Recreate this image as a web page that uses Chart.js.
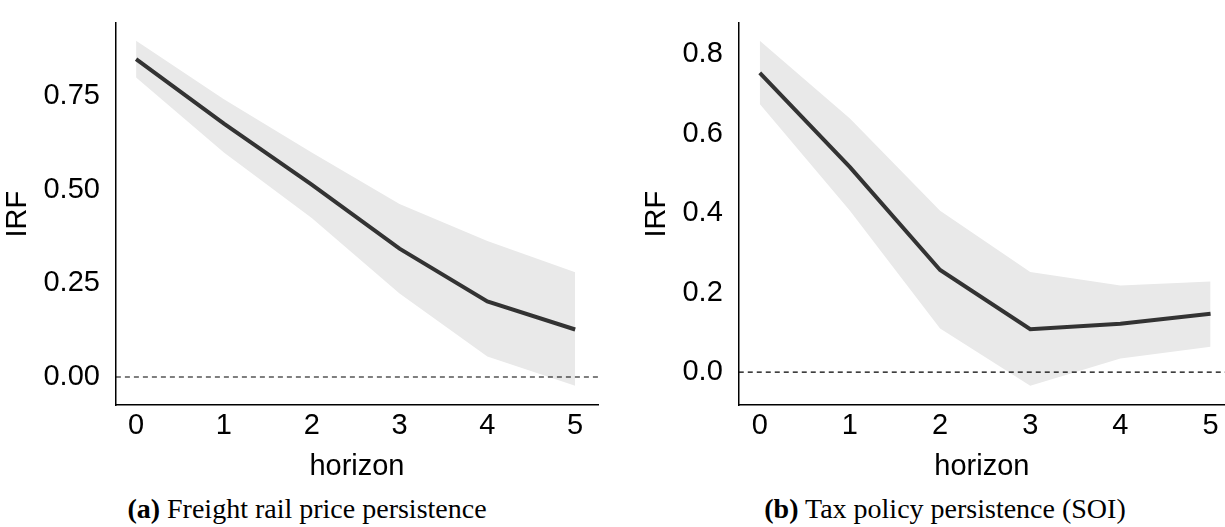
<!DOCTYPE html>
<html>
<head>
<meta charset="utf-8">
<script src="https://cdn.jsdelivr.net/npm/chart.js@4/dist/chart.umd.min.js"></script>
<style>
  body { margin: 0; background: #fff; width: 1225px; height: 527px; position: relative; overflow: hidden; }
  .panel { position: absolute; top: 0; }
  .cap { position: absolute; top: 493px; font-family: "Liberation Serif", serif; font-size: 28px; text-align: center; white-space: nowrap; }
</style>
</head>
<body>
<div class="panel" style="left:0;width:612px;height:482px"><canvas id="c1" width="612" height="482"></canvas></div>
<div class="panel" style="left:612px;width:613px;height:482px"><canvas id="c2" width="613" height="482"></canvas></div>
<div class="cap" style="left:57px;width:500px"><b>(a)</b> Freight rail price persistence</div>
<div class="cap" style="left:695px;width:500px"><b>(b)</b> Tax policy persistence (SOI)</div>
<script>
var horizon = [0, 1, 2, 3, 4, 5];

var irfA   = [0.849, 0.677, 0.514, 0.343, 0.202, 0.127];
var upperA = [0.898, 0.742, 0.600, 0.462, 0.363, 0.280];
var lowerA = [0.800, 0.600, 0.425, 0.223, 0.055, -0.023];
var yTicksA = [0, 0.25, 0.5, 0.75];

var irfB   = [0.753, 0.516, 0.257, 0.108, 0.122, 0.147];
var upperB = [0.834, 0.638, 0.406, 0.252, 0.218, 0.228];
var lowerB = [0.675, 0.406, 0.110, -0.034, 0.034, 0.064];
var yTicksB = [0, 0.2, 0.4, 0.6, 0.8];

function pts(v) { return horizon.map(function(h, i) { return {x: h, y: v[i]}; }); }

function makeChart(id, irf, up, lo, yTicks, dec, xr, yr, pad) {
  var font = {family: 'Liberation Sans, Arial, sans-serif', size: 29, lineHeight: 1.05};
  new Chart(document.getElementById(id), {
    type: 'line',
    data: {
      datasets: [
        {data: pts(up), borderWidth: 0, pointRadius: 0, fill: '+1', backgroundColor: '#e9e9e9', order: 3},
        {data: pts(lo), borderWidth: 0, pointRadius: 0, fill: false, order: 2},
        {data: [{x: xr[0], y: 0}, {x: xr[1], y: 0}], borderColor: '#000', borderWidth: 1.2, borderDash: [5, 4], pointRadius: 0, order: 1},
        {data: pts(irf), borderColor: '#333', borderWidth: 4, pointRadius: 0, order: 0}
      ]
    },
    options: {
      responsive: false, animation: false,
      layout: {padding: pad},
      plugins: {legend: {display: false}, tooltip: {enabled: false}},
      scales: {
        x: {
          type: 'linear', min: xr[0], max: xr[1],
          afterBuildTicks: function(s) { s.ticks = horizon.map(function(v) { return {value: v}; }); },
          grid: {display: false},
          border: {display: true, color: '#000', width: 1.5},
          ticks: {color: '#000', font: font, maxRotation: 0, padding: -2, callback: function(v) { return v; }},
          title: {display: true, text: 'horizon', color: '#000', font: font, padding: {top: 12, bottom: 0}}
        },
        y: {
          min: yr[0], max: yr[1],
          afterBuildTicks: function(s) { s.ticks = yTicks.map(function(v) { return {value: v}; }); },
          grid: {display: false},
          border: {display: true, color: '#000', width: 1.5},
          ticks: {color: '#000', font: font, padding: 8, callback: function(v) { return v.toFixed(dec); }},
          title: {display: true, text: 'IRF', color: '#000', font: font, padding: 2}
        }
      }
    }
  });
}

makeChart('c1', irfA, upperA, lowerA, yTicksA, 2, [-0.23, 5.26], [-0.075, 0.945], {left: 1, top: 12, right: 14, bottom: 0});
makeChart('c2', irfB, upperB, lowerB, yTicksB, 1, [-0.233, 5.16], [-0.083, 0.878], {left: 28, top: 12, right: 0, bottom: 0});
</script>
</body>
</html>
